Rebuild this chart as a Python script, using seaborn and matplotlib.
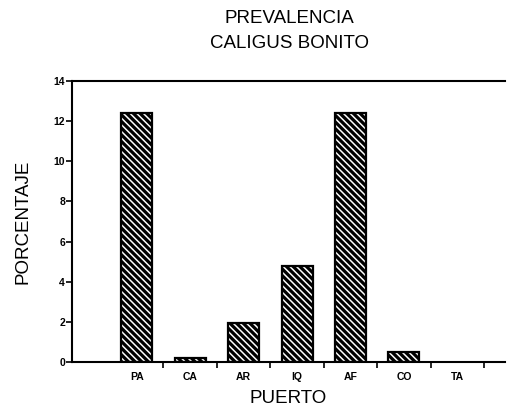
import matplotlib
matplotlib.use('Agg')
import matplotlib.pyplot as plt
import seaborn as sns
import pandas as pd

# Data
puertos = ['PA', 'CA', 'AR', 'IQ', 'AF', 'CO', 'TA']
porcentaje = [12.4, 0.2, 1.95, 4.8, 12.4, 0.5, 0.0]
yticks = [0, 2, 4, 6, 8, 10, 12, 14]

df = pd.DataFrame({'Puerto': puertos, 'Porcentaje': porcentaje})

sns.set_style('white')
plt.rcParams['font.family'] = ['Liberation Sans', 'DejaVu Sans']
plt.rcParams['text.color'] = 'black'
plt.rcParams['axes.labelcolor'] = 'black'
plt.rcParams['xtick.color'] = 'black'
plt.rcParams['ytick.color'] = 'black'
plt.rcParams['hatch.linewidth'] = 2.3
plt.rcParams['hatch.color'] = 'black'

fig = plt.figure(figsize=(5.12, 4.13), dpi=100)
ax = fig.add_axes([72 / 512, 51 / 413, 433 / 512, 281 / 413])

sns.barplot(data=df, x='Puerto', y='Porcentaje', color='white',
            edgecolor='black', linewidth=1.6, width=0.58, ax=ax)
for p in ax.patches:
    p.set_hatch('\\' * 5)
    # a zero bar leaves no outline in the original
    if p.get_height() == 0:
        p.set_linewidth(0)

ax.set_xlim(-1.21, 6.89)
ax.set_ylim(0, 14)

# tick marks between categories, labels at bar centres
ax.set_xticks([i + 0.5 for i in range(len(puertos))])
ax.set_xticklabels([])
ax.set_xticks(range(len(puertos)), minor=True)
ax.set_xticklabels(puertos, minor=True, fontsize=7.5, fontweight='bold')
ax.tick_params(axis='x', which='major', bottom=True, direction='out',
               length=4, width=1.2)
ax.tick_params(axis='x', which='minor', bottom=True, length=0, pad=7)

ax.set_yticks(yticks)
ax.set_yticklabels([str(v) for v in yticks], fontsize=7.5, fontweight='bold')
ax.tick_params(axis='y', left=True, direction='out', length=4, width=1.2, pad=1)

for side in ['left', 'bottom', 'top']:
    ax.spines[side].set_visible(True)
    ax.spines[side].set_color('black')
    ax.spines[side].set_linewidth(1.5)
ax.spines['right'].set_visible(False)

ax.set_xlabel('PUERTO', fontsize=13.5, labelpad=6)
ax.set_ylabel('PORCENTAJE', fontsize=13.5, labelpad=16)
fig.text(0.565, 1 - 10 / 413, 'PREVALENCIA\nCALIGUS BONITO', fontsize=13.5,
         ha='center', va='top', linespacing=1.6)

fig.savefig('out.png', dpi=100)
